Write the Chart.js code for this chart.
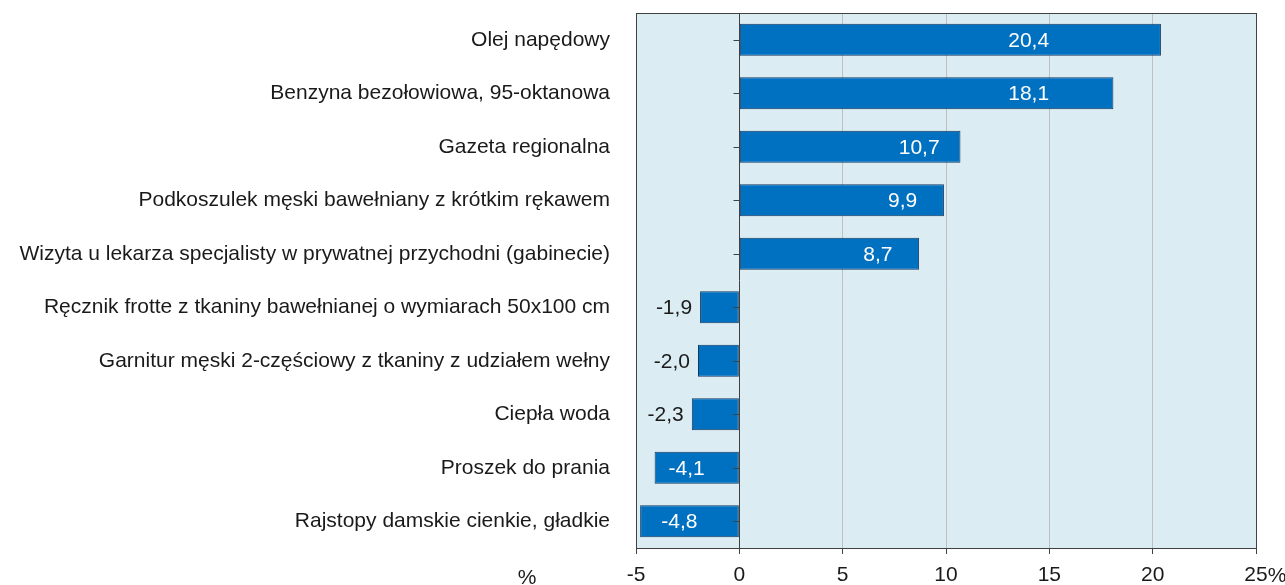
<!DOCTYPE html>
<html><head><meta charset="utf-8">
<script src="https://cdn.jsdelivr.net/npm/chart.js@4"></script>
<style>html,body{margin:0;padding:0;background:#fff;}#wrap{width:1285px;height:585px;}</style>
</head><body><div id="wrap"><canvas id="c" width="1285" height="585"></canvas></div>
<script>
const categories = [
  "Olej napędowy",
  "Benzyna bezołowiowa, 95-oktanowa",
  "Gazeta regionalna",
  "Podkoszulek męski bawełniany z krótkim rękawem",
  "Wizyta u lekarza specjalisty w prywatnej przychodni (gabinecie)",
  "Ręcznik frotte z tkaniny bawełnianej o wymiarach 50x100 cm",
  "Garnitur męski 2-częściowy z tkaniny z udziałem wełny",
  "Ciepła woda",
  "Proszek do prania",
  "Rajstopy damskie cienkie, gładkie"
];
const values = [20.4, 18.1, 10.7, 9.9, 8.7, -1.9, -2.0, -2.3, -4.1, -4.8];
const xTicks = [-5, 0, 5, 10, 15, 20, 25];
const unitLabel = "%";

const FONT = "'Liberation Sans', Arial, sans-serif";
const FS = 21;
const TEXT = '#1a1a1a';
const fmt = v => v.toFixed(1).replace('.', ',');

const decor = {
  id: 'decor',
  beforeDraw(chart) {
    const {ctx, chartArea: a} = chart;
    ctx.save();
    ctx.fillStyle = '#DBEDF3';
    ctx.fillRect(a.left, a.top, a.right - a.left, a.bottom - a.top);
    ctx.restore();
  },
  afterDatasetsDraw(chart) {
    const {ctx, chartArea: a, scales} = chart;
    const x = scales.x, y = scales.y;
    const x0 = Math.round(x.getPixelForValue(0)) + 0.5;
    ctx.save();
    ctx.strokeStyle = '#404040';
    ctx.lineWidth = 1;
    ctx.beginPath(); ctx.moveTo(x0, a.top); ctx.lineTo(x0, a.bottom); ctx.stroke();
    categories.forEach((c, i) => {
      const yy = Math.round(y.getPixelForValue(i)) + 0.5;
      ctx.beginPath(); ctx.moveTo(x0 - 6, yy); ctx.lineTo(x0, yy); ctx.stroke();
    });
    ctx.strokeRect(Math.round(a.left) + 0.5, Math.round(a.top) + 0.5, Math.round(a.right - a.left), Math.round(a.bottom - a.top));
    ctx.font = FS + 'px ' + FONT;
    ctx.textBaseline = 'middle';
    const meta = chart.getDatasetMeta(0);
    values.forEach((v, i) => {
      const bar = meta.data[i];
      const yy = bar.y + 1;
      if (v >= 0) {
        ctx.fillStyle = '#ffffff';
        ctx.textAlign = 'center';
        ctx.fillText(fmt(v), x.getPixelForValue(Math.min(v - 2, 14)), yy);
      } else if (v > -3) {
        ctx.fillStyle = TEXT;
        ctx.textAlign = 'right';
        ctx.fillText(fmt(v), x.getPixelForValue(v) - 8, yy);
      } else {
        ctx.fillStyle = '#ffffff';
        ctx.textAlign = 'center';
        ctx.fillText(fmt(v), x.getPixelForValue(v / 2 - 0.5), yy);
      }
    });
    ctx.fillStyle = TEXT;
    ctx.textAlign = 'center';
    ctx.fillText(unitLabel, 527, 578);
    const xr = x.getPixelForValue(xTicks[xTicks.length - 1]);
    const w = ctx.measureText(String(xTicks[xTicks.length - 1])).width;
    ctx.textAlign = 'left';
    ctx.fillText(unitLabel, xr + w / 2, 576);
    ctx.restore();
  }
};

new Chart(document.getElementById('c'), {
  type: 'bar',
  data: {
    labels: categories,
    datasets: [{
      data: values,
      backgroundColor: '#0070C0',
      borderColor: '#17375E',
      borderWidth: 1,
      borderSkipped: false,
      categoryPercentage: 0.6,
      barPercentage: 1.0
    }]
  },
  options: {
    indexAxis: 'y',
    responsive: false,
    animation: false,
    events: [],
    layout: {padding: {top: 13, right: 29, bottom: 0, left: 0}},
    plugins: {legend: {display: false}, tooltip: {enabled: false}},
    scales: {
      x: {
        min: -5, max: 25,
        afterBuildTicks: s => { s.ticks = xTicks.map(v => ({value: v})); },
        afterFit: s => { s.height = 37; s.paddingLeft = 0; s.paddingRight = 0; },
        border: {display: false},
        grid: {
          color: ctx => (ctx.tick && (ctx.tick.value === 0 || ctx.tick.value === -5 || ctx.tick.value === 25)) ? 'rgba(0,0,0,0)' : '#BFBFBF',
          tickColor: '#404040',
          tickLength: 6
        },
        ticks: {
          color: TEXT, padding: 9,
          font: {family: FONT, size: FS},
          callback: v => String(v)
        }
      },
      y: {
        afterFit: s => { s.width = 636; s.paddingTop = 0; s.paddingBottom = 0; },
        border: {display: false},
        grid: {display: false},
        ticks: {
          color: TEXT, padding: 18,
          font: {family: FONT, size: FS}
        }
      }
    }
  },
  plugins: [decor]
});
</script>
</body></html>
